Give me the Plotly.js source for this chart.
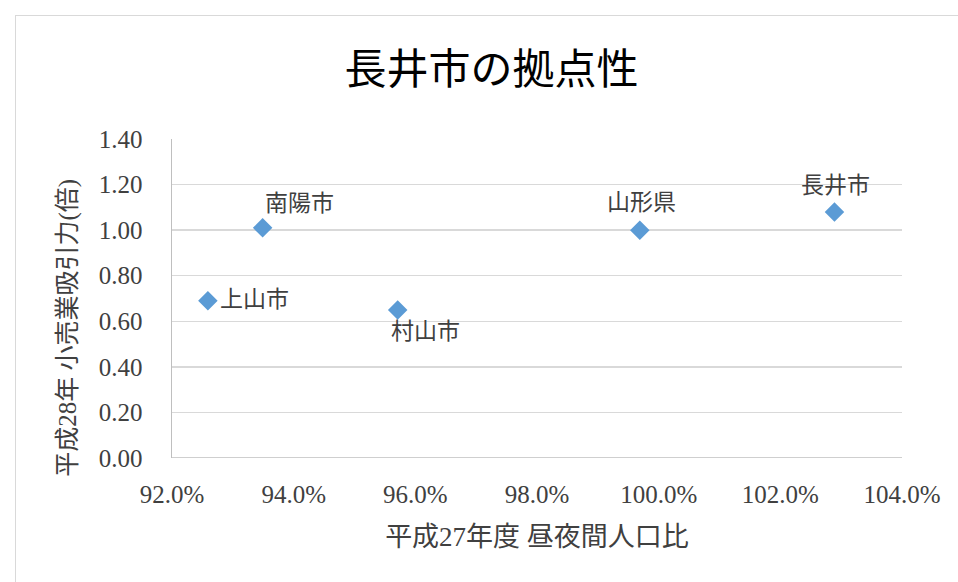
<!DOCTYPE html>
<html>
<head>
<meta charset="utf-8">
<script src="https://cdn.plot.ly/plotly-3.0.1.min.js"></script>
<style>
  html, body { margin: 0; padding: 0; background: #ffffff; }
  #wrap { position: relative; width: 958px; height: 582px; overflow: hidden; }
  #chart { position: absolute; left: 0; top: 0; width: 958px; height: 582px; }
  #frame { position: absolute; left: 15px; top: 15px; width: 960px; height: 600px;
           border-left: 1.5px solid #d9d9d9; border-top: 1.5px solid #d9d9d9; pointer-events: none; }
</style>
</head>
<body>
<div id="wrap">
  <div id="chart"></div>
  <div id="frame"></div>
</div>
<script>
// Data
const cities = ["上山市", "南陽市", "村山市", "山形県", "長井市"];
const dayNightRatio = [0.9259, 0.9349, 0.9571, 0.9969, 1.0289];   // 平成27年度 昼夜間人口比
const retailPull = [0.69, 1.01, 0.65, 1.00, 1.08];               // 平成28年 小売業吸引力(倍)

const titleText = "長井市の拠点性";
const xTitleText = "平成27年度 昼夜間人口比";
const yTitleText = "平成28年 小売業吸引力(倍)";

// label placement (pixel offsets) per point
const labelShiftX = [47, 37, 28, 2, 1];
const labelShiftY = [1, 24, -22, 28, 26];

const serif = "'Liberation Serif', 'Noto Sans CJK JP', serif";

const annotations = cities.map((c, i) => ({
  x: dayNightRatio[i], y: retailPull[i], xref: "x", yref: "y",
  text: c, showarrow: false, xanchor: "center", yanchor: "middle",
  xshift: labelShiftX[i], yshift: labelShiftY[i],
  font: { family: serif, size: 23, color: "#404040" }
}));

// vertical axis title (placed as annotation to match its offset position)
annotations.push({
  x: -0.1425, y: 0.408, xref: "paper", yref: "paper",
  text: yTitleText, textangle: -90, showarrow: false,
  xanchor: "center", yanchor: "middle",
  font: { family: serif, size: 25, color: "#404040" }
});

const trace = {
  type: "scatter", mode: "markers",
  x: dayNightRatio, y: retailPull,
  marker: { symbol: "diamond", size: 15, color: "#5b9bd5", line: { width: 0 } },
  hoverinfo: "skip"
};

const layout = {
  width: 958, height: 582,
  margin: { l: 172, r: 56, t: 139, b: 124, pad: 0 },
  paper_bgcolor: "#ffffff", plot_bgcolor: "#ffffff",
  showlegend: false,
  title: {
    text: titleText, x: 0.513, xref: "container", xanchor: "center",
    y: 0.881, yref: "container", yanchor: "middle",
    font: { family: "'Noto Sans CJK JP', sans-serif", size: 42, color: "#000000" }
  },
  xaxis: {
    range: [0.92, 1.04], dtick: 0.02, tick0: 0.92, tickformat: ".1%",
    showgrid: false, zeroline: false,
    showline: false,
    ticks: "outside", ticklen: 14, tickcolor: "rgba(0,0,0,0)",
    tickfont: { family: serif, size: 25, color: "#404040" },
    title: { text: xTitleText, standoff: 20, font: { family: serif, size: 27, color: "#404040" } },
    fixedrange: true
  },
  yaxis: {
    range: [0, 1.4], dtick: 0.2, tick0: 0, tickformat: ".2f",
    showgrid: true, gridcolor: "#d9d9d9", gridwidth: 1.5,
    zeroline: false,
    showline: true, linecolor: "#bfbfbf", linewidth: 1.5,
    ticks: "outside", ticklen: 23, tickcolor: "rgba(0,0,0,0)",
    tickfont: { family: serif, size: 25, color: "#404040" },
    fixedrange: true
  },
  shapes: [{
    type: "line", xref: "paper", yref: "y", x0: 0, x1: 1, y0: 0, y1: 0,
    line: { color: "#bfbfbf", width: 1.5 }
  }],
  annotations: annotations
};

Plotly.newPlot("chart", [trace], layout, { displayModeBar: false, staticPlot: true });
</script>
</body>
</html>
